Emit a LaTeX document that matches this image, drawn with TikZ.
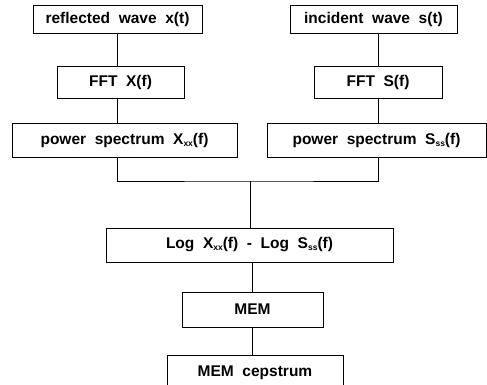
\documentclass[tikz,border=0pt]{standalone}
\usepackage{fontspec}
\setmainfont{Liberation Sans}[WordSpace=2.0]
\usetikzlibrary{calc}
\newcommand{\mysub}[1]{\raisebox{-2pt}{\fontsize{8.5}{9}\selectfont #1}}
\begin{document}
\begin{tikzpicture}[x=1pt,y=-1pt,
  box/.style={draw,line width=0.8pt,rectangle,inner sep=0pt,align=center,
    font=\fontsize{15.5}{17}\selectfont\bfseries},
  conn/.style={line width=0.7pt}]
\useasboundingbox (0,0) rectangle (487,384);
\clip (0,0) rectangle (487,384);
\node[box,minimum width=169pt,minimum height=28pt] (r) at (117.5,19) {reflected wave x(t)};
\node[box,minimum width=167pt,minimum height=28pt] (i) at (373.5,19) {incident wave s(t)};
\node[box,minimum width=127pt,minimum height=32pt] (fx) at (120.5,82) {FFT X(f)};
\node[box,minimum width=128pt,minimum height=32pt] (fs) at (378,82) {FFT S(f)};
\node[box,minimum width=225pt,minimum height=34pt] (px) at (124.5,140) {power spectrum X\mysub{xx}(f)};
\node[box,minimum width=219pt,minimum height=34pt] (ps) at (376.5,140) {power spectrum S\mysub{ss}(f)};
\node[box,minimum width=287pt,minimum height=34pt] (lg) at (249.5,245) {Log X\mysub{xx}(f) - Log S\mysub{ss}(f)};
\node[box,minimum width=141pt,minimum height=35pt] (mem) at (252.5,309.5) {MEM};
\node[box,minimum width=176pt,minimum height=36pt] (cep) at (255,373) {MEM cepstrum};
\coordinate (j) at (250,181);
\draw[conn] (r.south) -- (r.south |- fx.north);
\draw[conn] ([xshift=4.5pt]i.south) -- ([xshift=4.5pt]i.south |- fs.north);
\draw[conn] ([xshift=-3.5pt]fx.south) -- ([xshift=-3.5pt]fx.south |- px.north);
\draw[conn] (fs.south) -- (fs.south |- ps.north);
\draw[conn] ([xshift=-7.5pt]px.south) |- (j) -| ([xshift=1.5pt]ps.south);
\draw[conn] (j) -- (j |- lg.north);
\draw[conn] ([xshift=3pt]lg.south) -- ([xshift=3pt]lg.south |- mem.north);
\draw[conn] ([xshift=-0.5pt]mem.south) -- ([xshift=-0.5pt]mem.south |- cep.north);
\end{tikzpicture}
\end{document}
